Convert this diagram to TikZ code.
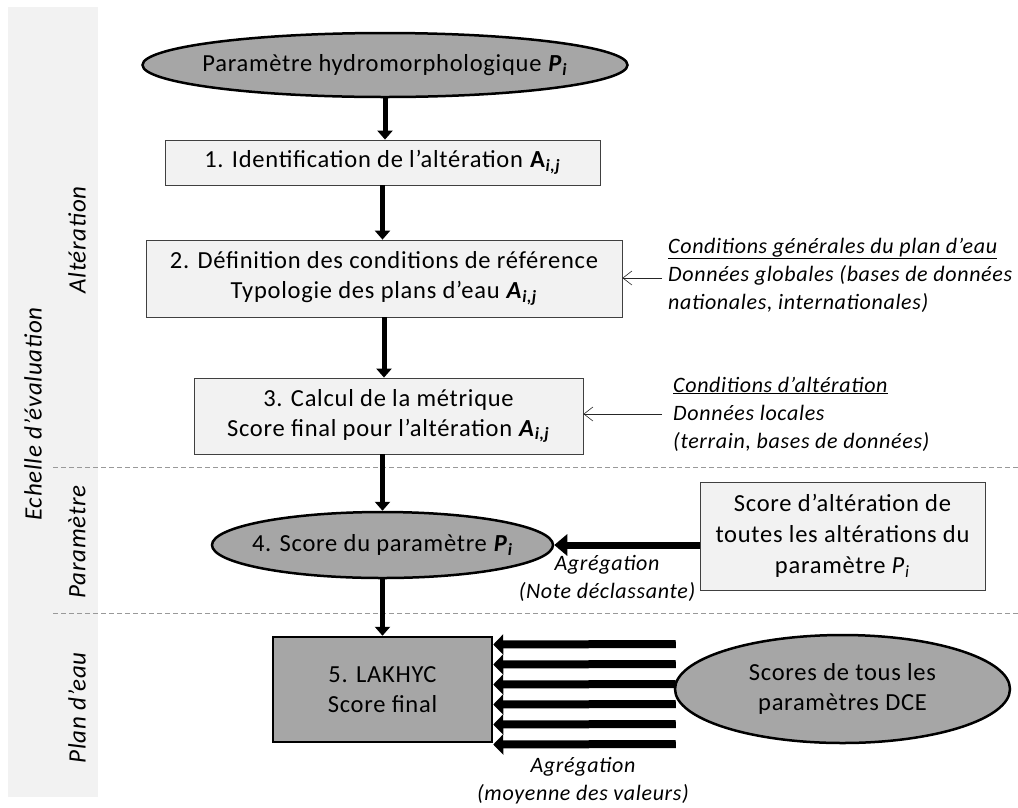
\documentclass[tikz,border=0pt]{standalone}
\usepackage{fontspec}
\setmainfont{Carlito}[LetterSpace=3]
\usepackage{tikz}
\usetikzlibrary{arrows.meta, positioning, calc, shapes.geometric}
\newcommand{\bi}[1]{\textbf{\textit{#1}}}
\newcommand{\Pidx}{\bi{P}\textsubscript{\bi{i}}}
\newcommand{\Aidx}{\bi{A}\textsubscript{\bi{i,j}}}

\begin{document}
\begin{tikzpicture}[x=1pt, y=-1pt,
    txt/.style={font=\fontsize{24.5}{30}\selectfont, text=black, align=center},
    boite/.style={txt, rectangle, draw=black!75, fill=black!5, line width=0.8pt, inner sep=0pt},
    ovale/.style={ellipse, draw=black, fill=black!35, line width=2.5pt, inner sep=0pt},
    echelle/.style={font=\fontsize{25}{30}\selectfont\itshape, rotate=90},
    note/.style={font=\fontsize{22}{28}\selectfont\itshape, align=left, anchor=west, inner sep=0pt},
    fleche/.style={line width=5pt, -{Triangle[length=9pt, width=15pt]}},
    grosse/.style={line width=8pt, -{Triangle[length=10pt, width=20pt]}},
    fine/.style={line width=0.6pt, black!85, -{Straight Barb[length=9pt, width=14pt]}},
    sep/.style={black!40, line width=1pt, dash pattern=on 5pt off 3pt}]

    \useasboundingbox (0,0) rectangle (1018,807);

    % bande de gauche
    \fill[black!5] (8,7) rectangle (98,797);
    \node[echelle] (ech) at (33,414) {Echelle d’évaluation};
    \node[echelle] (ealt) at (77,240) {Altération};
    \node[echelle] (epar) at (77,542) {Paramètre};
    \node[echelle] (eplan) at (77,708) {Plan d’eau};

    \draw[sep] (53,467) -- (1018,467);
    \draw[sep] (53,613) -- (1018,613);

    % étapes
    \node[ovale, minimum width=485pt, minimum height=64pt,
          label={[txt]center:Paramètre hydromorphologique \Pidx}] (param) at (385,65) {};
    \node[boite, minimum width=435pt, minimum height=45pt] (alt) at (382.5,162.5)
        {1. Identification de l’altération \textbf{A}\textsubscript{\bi{i,j}}};
    \node[boite, minimum width=476pt, minimum height=77pt] (ref) at (384,278.5)
        {2. Définition des conditions de référence\\Typologie des plans d’eau \Aidx};
    \node[boite, minimum width=389pt, minimum height=76pt] (calc) at (388.5,416)
        {3. Calcul de la métrique\\Score final pour l’altération \Aidx};
    \node[ovale, minimum width=341pt, minimum height=66pt,
          label={[txt]center:4. Score du paramètre \Pidx}] (score) at (382.5,545) {};
    \node[boite, minimum width=285pt, minimum height=108pt,
          font=\fontsize{24.5}{31}\selectfont] (toutes) at (842.5,536)
        {Score d’altération de\\toutes les altérations du\\paramètre \textit{P}\textsubscript{\textit{i}}};
    \node[boite, fill=black!35, draw=black, line width=2.5pt,
          minimum width=219pt, minimum height=105pt] (lakhyc) at (382.5,689.5)
        {5. LAKHYC\\Score final};
    \node[ovale, minimum width=335pt, minimum height=108pt,
          label={[txt]center:Scores de tous les\\paramètres DCE}] (dce) at (842.5,689) {};

    % sources
    \node[note] (gen) at (668,275)
        {\underline{Conditions générales du plan d’eau}\\Données globales (bases de données\\nationales, internationales)};
    \node[note] (loc) at (673,414)
        {\underline{Conditions d’altération}\\Données locales\\(terrain, bases de données)};
    \coordinate (cgen) at (662,278);
    \coordinate (cloc) at (662,414);
    \draw[fine] (cgen) -- (ref.east |- cgen);
    \draw[fine] (cloc) -- (calc.east |- cloc);

    % flèches
    \draw[fleche] (param.south) -- (param.south |- alt.north);
    \draw[fleche] (alt.south) -- (alt.south |- ref.north);
    \draw[fleche] (ref.south) -- (ref.south |- calc.north);
    \draw[fleche] (calc.south -| score.north) -- (score.north);
    \draw[fleche] (score.south) -- (score.south |- lakhyc.north);

    \draw[line width=7pt, -{Triangle[length=13pt, width=21pt]}] (toutes.west |- score.east) -- (score.east);
    \node[note, anchor=center, align=center] (agr1) at (607,578) {Agrégation\\(Note déclassante)};

    \foreach \dy in {-45,-25,-5,15,35,55}
        \draw[grosse] ($(dce.west)+(2,\dy)$) -- ($(lakhyc.east)+(0,\dy)$);
    \node[note, anchor=center, align=center] (agr2) at (583,781) {Agrégation\\(moyenne des valeurs)};

\end{tikzpicture}
\end{document}
